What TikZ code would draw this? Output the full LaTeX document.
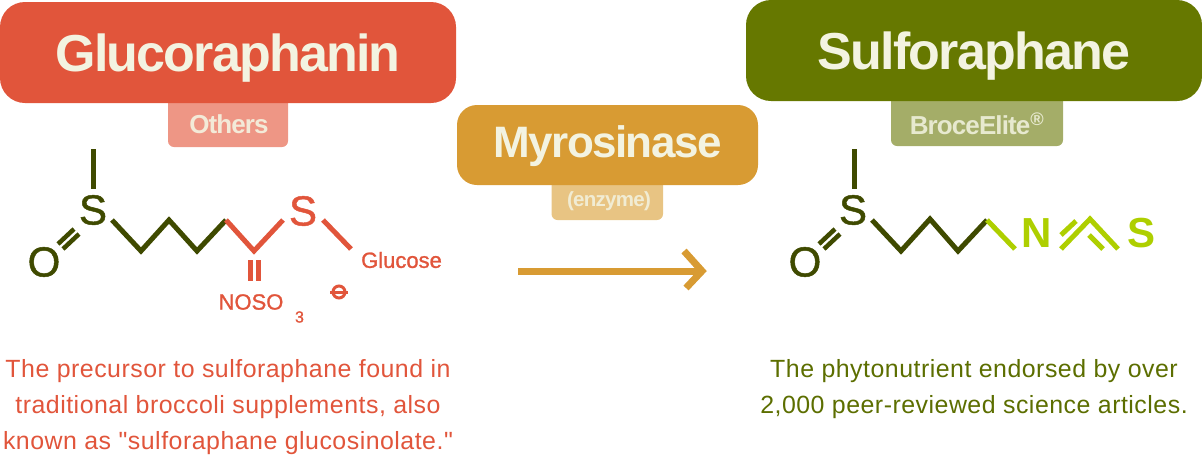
\documentclass[tikz,border=0pt]{standalone}
\usepackage{fontspec}
\setmainfont{Liberation Sans}
\newfontfamily\bodyfont[LetterSpace=2]{Liberation Sans}
\newfontfamily\headfont[LetterSpace=-3.5]{Liberation Sans Bold}
\newfontfamily\atomfont[FakeBold=1.2]{Liberation Sans}
\definecolor{redbox}{HTML}{E1553B}
\definecolor{redsoft}{HTML}{EE9685}
\definecolor{olivebox}{HTML}{667800}
\definecolor{olivesoft}{HTML}{A4AD68}
\definecolor{amberbox}{HTML}{D89B33}
\definecolor{ambersoft}{HTML}{E8C483}
\definecolor{cream}{HTML}{F3F3E1}
\definecolor{bonddark}{HTML}{3F4A00}
\definecolor{bondlime}{HTML}{AECF00}
\definecolor{bodyolive}{HTML}{5C6E00}
\tikzset{
  headbox/.style={inner sep=0pt,text=cream,font=\headfont\fontsize{52}{52}\selectfont,text height=37pt,text depth=0pt},
  tagtext/.style={inner sep=0pt,font=\headfont\fontsize{26}{26}\selectfont},
  atom/.style={inner sep=0pt,font=\atomfont\fontsize{42}{42}\selectfont},
  smalltxt/.style={inner sep=0pt,text=redbox,font=\atomfont\fontsize{22}{22}\selectfont},
  bond/.style={line width=5pt},
  bodytxt/.style={align=center,inner sep=0pt,font=\bodyfont\fontsize{24.9}{36}\selectfont}
}
\begin{document}
\begin{tikzpicture}[x=1pt,y=-1pt]
\useasboundingbox (0,0) rectangle (1202,456);
% tags behind the boxes
\fill [redsoft,rounded corners=6pt] (168,90) rectangle (288,147);
\fill [olivesoft,rounded corners=6pt] (891,90) rectangle (1063,146);
\fill [ambersoft,rounded corners=6pt] (551.5,170) rectangle (663,220);
\node [headbox,fill=redbox,rounded corners=25pt,minimum width=456pt,minimum height=101pt] (gluco) at (228,52.5) {Glucoraphanin};
\node [headbox,fill=olivebox,rounded corners=25pt,minimum width=456pt,minimum height=101pt] (sulfo) at (974,50.5) {Sulforaphane};
\node [headbox,fill=amberbox,rounded corners=20pt,minimum width=301pt,minimum height=80pt,font=\headfont\fontsize{44}{44}\selectfont,text height=24pt] (myro) at (607.5,145) {Myrosinase};
\node [tagtext,text=cream!90!redsoft] (others) at (229,124) {Others};
\node [tagtext,text=cream!85!olivesoft] (broce) at (977,124) {BroceElite\textsuperscript{\textregistered}};
\node [tagtext,text=cream!85!ambersoft,font=\headfont\fontsize{20.5}{20}\selectfont] (enz) at (609,201) {(enzyme)};
% arrow
\coordinate (arrowA) at (518,271);
\coordinate (arrowB) at (702,271);
\draw [amberbox,line width=7pt] (arrowA) -- (arrowB);
\draw [amberbox,line width=7pt] (684,251) -- (arrowB) -- (686,288);
% left molecule
\node [atom,text=bonddark] (S1) at (93,210) {S};
\node [atom,text=bonddark] (O1) at (44,262) {O};
\node [atom,text=redbox] (S2) at (303,211) {S};
\draw [bond,bonddark] (93.5,149) -- (93.5,189);
\draw [bond,bonddark,line width=4.5pt] (58,244) -- (74,229);
\draw [bond,bonddark,line width=4.5pt] (63,249) -- (79,234);
\draw [bond,bonddark] (112,220) -- (141,251) -- (169,220) -- (197,251) -- (226,220);
\draw [bond,redbox] (226,220) -- (254,251) -- (283,220);
\draw [bond,redbox] (323,220) -- (351,249);
\draw [bond,redbox] (250,260) -- (250,281);
\draw [bond,redbox] (258,260) -- (258,281);
\node [smalltxt] (gluc) at (401.5,260) {Glucose};
\node [smalltxt] (noso) at (251,302) {NOSO};
\node [smalltxt,font=\atomfont\fontsize{16}{16}\selectfont] (three) at (299.5,317) {3};
\draw [redbox,line width=3pt] (339,292) circle (6);
\draw [redbox,line width=2.5pt] (330,292.5) -- (348,292.5);
% right molecule
\node [atom,text=bonddark] (S3) at (853,210) {S};
\node [atom,text=bonddark] (O3) at (805,262) {O};
\node [atom,text=bondlime,font=\fontsize{42}{42}\selectfont\bfseries] (N3) at (1037,233) {N};
\node [atom,text=bondlime,font=\fontsize{42}{42}\selectfont\bfseries] (S4) at (1141,233) {S};
\draw [bond,bonddark] (854,149) -- (854,189);
\draw [bond,bonddark,line width=4.5pt] (819,244) -- (835,229);
\draw [bond,bonddark,line width=4.5pt] (824,249) -- (840,234);
\draw [bond,bonddark] (872,220) -- (901,251) -- (930,219) -- (958,251) -- (987,220);
\draw [bond,bondlime] (987,220) -- (1015,249);
\draw [bond,bondlime] (1061,249) -- (1090,219) -- (1118,249);
\draw [bond,bondlime] (1061,235) -- (1076,221);
\draw [bond,bondlime] (1089,235) -- (1103,249);
% captions
\node [bodytxt,text=redbox] (capL) at (228,407) {The precursor to sulforaphane found in\\traditional broccoli supplements, also\\known as "sulforaphane glucosinolate."};
\node [bodytxt,text=bodyolive] (capR) at (974,389.5) {The phytonutrient endorsed by over\\2,000 peer-reviewed science articles.};
\end{tikzpicture}
\end{document}
